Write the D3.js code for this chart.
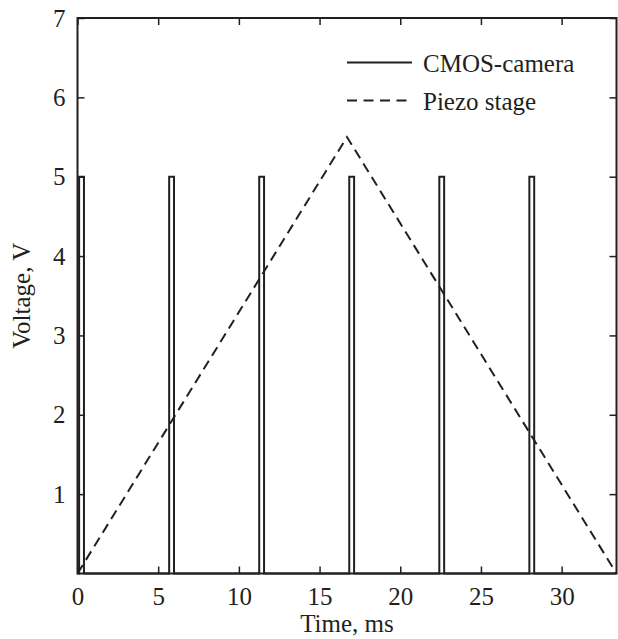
<!DOCTYPE html>
<html>
<head>
<meta charset="utf-8">
<script src="https://cdn.jsdelivr.net/npm/d3@7"></script>
<style>
  body { margin: 0; background: #fff; }
  text { font-family: "Liberation Serif", "Times New Roman", serif; fill: #231f20; }
</style>
</head>
<body>
<svg id="chart"></svg>
<script>
// pulse start times of the camera trigger, ms
const pulseStarts = [0.1, 5.68, 11.26, 16.84, 22.42, 28.0];
const pulseWidth = 0.3;
const pulseHigh = 5;
// piezo ramp: time (ms) and voltage (V)
const piezoTime = [0, 16.7, 33.4];
const piezoVolt = [0, 5.5, 0];
const xTicks = [0, 5, 10, 15, 20, 25, 30];
const yTicks = [1, 2, 3, 4, 5, 6, 7];
const legendLabels = ["CMOS-camera", "Piezo stage"];

const width = 618, height = 639;
const margin = { top: 18, right: 1.5, bottom: 65.5, left: 77.5 };
const ink = "#231f20";

const svg = d3.select("#chart").attr("width", width).attr("height", height);

const x = d3.scaleLinear().domain([0, 33.4]).range([margin.left, width - margin.right]);
const y = d3.scaleLinear().domain([0, 7]).range([height - margin.bottom, margin.top]);

// camera signal as a step line
const camPts = [[0, 0]];
pulseStarts.forEach(t => {
  camPts.push([t, 0], [t, pulseHigh], [t + pulseWidth, pulseHigh], [t + pulseWidth, 0]);
});
camPts.push([33.4, 0]);

const line = d3.line().x(d => x(d[0])).y(d => y(d[1]));

svg.append("path")
  .attr("d", line(camPts))
  .attr("fill", "none")
  .attr("stroke", ink)
  .attr("stroke-width", 2);

svg.append("path")
  .attr("d", line(piezoTime.map((t, i) => [t, piezoVolt[i]])))
  .attr("fill", "none")
  .attr("stroke", ink)
  .attr("stroke-width", 2)
  .attr("stroke-dasharray", "10,6");

// axes with inward ticks, on all four sides
const tk = 7;
const axBottom = svg.append("g").attr("transform", `translate(0,${y(0)})`)
  .call(d3.axisBottom(x).tickValues(xTicks).tickSizeInner(-tk).tickSizeOuter(0)
    .tickPadding(14).tickFormat(d3.format("d")));
const axTop = svg.append("g").attr("transform", `translate(0,${y(7)})`)
  .call(d3.axisTop(x).tickValues(xTicks).tickSizeInner(-tk).tickSizeOuter(0).tickFormat(""));
const axLeft = svg.append("g").attr("transform", `translate(${x(0)},0)`)
  .call(d3.axisLeft(y).tickValues(yTicks).tickSizeInner(-tk).tickSizeOuter(0)
    .tickPadding(12).tickFormat(d3.format("d")));
const axRight = svg.append("g").attr("transform", `translate(${x(33.4)},0)`)
  .call(d3.axisRight(y).tickValues(yTicks).tickSizeInner(-tk).tickSizeOuter(0).tickFormat(""));

[axBottom, axTop, axLeft, axRight].forEach(g => {
  g.attr("font-family", null);
  g.select(".domain").remove();
  g.selectAll("line").attr("stroke", ink).attr("stroke-width", 1.5);
  g.selectAll("text").attr("font-size", 25).attr("fill", ink)
    .style("font-family", "'Liberation Serif', serif");
});

// frame
svg.append("rect")
  .attr("x", x(0)).attr("y", y(7))
  .attr("width", x(33.4) - x(0)).attr("height", y(0) - y(7))
  .attr("fill", "none").attr("stroke", ink).attr("stroke-width", 2);

// axis titles
svg.append("text")
  .attr("x", (x(0) + x(33.4)) / 2).attr("y", 632)
  .attr("text-anchor", "middle").attr("font-size", 25)
  .text("Time, ms");

svg.append("text")
  .attr("transform", `translate(30,${(y(0) + y(7)) / 2}) rotate(-90)`)
  .attr("text-anchor", "middle").attr("font-size", 25)
  .text("Voltage, V");

// legend
const leg = svg.append("g");
legendLabels.forEach((lab, i) => {
  const ly = 62.5 + i * 38;
  leg.append("line")
    .attr("x1", 347).attr("x2", 412).attr("y1", ly).attr("y2", ly)
    .attr("stroke", ink).attr("stroke-width", 2)
    .attr("stroke-dasharray", i === 1 ? "10,6.5" : null);
  leg.append("text")
    .attr("x", 423).attr("y", ly + 9)
    .attr("font-size", 25)
    .text(lab);
});
</script>
</body>
</html>
